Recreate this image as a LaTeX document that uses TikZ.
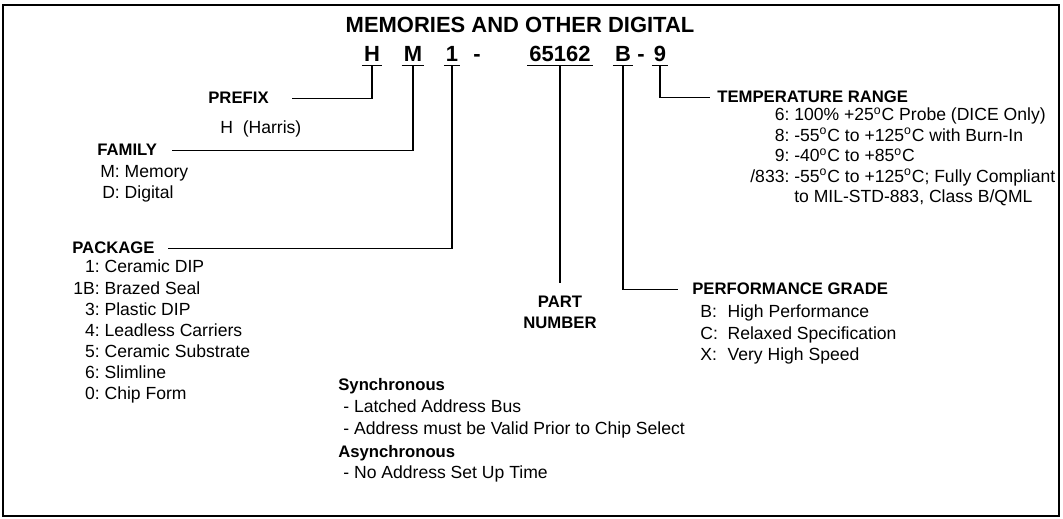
\documentclass[tikz,border=0pt]{standalone}
\usepackage{fontspec}
\setmainfont{Liberation Sans}
\usetikzlibrary{positioning}

\begin{document}
\begin{tikzpicture}[
        x=0.02cm, y=-0.02cm,
        every node/.style={inner sep=0pt, font=\fontsize{10}{12}\selectfont},
        codechar/.style={font=\fontsize{12.5}{14}\selectfont\bfseries, inner xsep=1pt, inner ysep=1.7pt, text depth=0pt, anchor=base},
        hdr/.style={font=\fontsize{9.5}{12}\selectfont\bfseries, anchor=base west},
        itemlist/.style={anchor=base west, align=left},
        lead/.style={line width=0.8pt, black},
    ]
        \useasboundingbox (0,0) rectangle (1063,519);
        \draw[line width=0.9pt] (3,5) rectangle (1059,516);

        % Title and part code
        \node[font=\fontsize{12.5}{14}\selectfont\bfseries] (title) at (520,25) {MEMORIES AND OTHER DIGITAL};
        \node[codechar] (cH) at (372,62) {H};
        \node[codechar] (cM) at (413,62) {M};
        \node[codechar] (c1) at (452,62) {1};
        \node[codechar] (dashA) at (477,62) {-};
        \node[codechar] (cNum) at (560,62) {65162};
        \node[codechar] (cB) at (623,62) {B};
        \node[codechar] (dashB) at (641,62) {-};
        \node[codechar] (c9) at (660,62) {9};

        % Underlines
        \foreach \c in {cH, cM, c1, cNum, cB, c9}
            \draw[lead] (\c.south west) -- (\c.south east);

        % Prefix and family
        \node[hdr] (prefix) at (208,104) {PREFIX};
        \node[itemlist] (harris) at (220,134) {H\ \ (Harris)};
        \node[hdr] (family) at (97,156) {FAMILY};
        \node[itemlist] (famlist) at (100,178) {\fontsize{10}{11.4}\selectfont
            \begin{tabular}[t]{@{}r@{\ }l@{}}M: & Memory\\ D: & Digital\end{tabular}};

        % Package
        \node[hdr] (package) at (72,254) {PACKAGE};
        \node[itemlist] (pkglist) at (73,273) {\fontsize{10}{12}\selectfont
            \begin{tabular}[t]{@{}r@{\ }l@{}}
                1: & Ceramic DIP\\
                1B: & Brazed Seal\\
                3: & Plastic DIP\\
                4: & Leadless Carriers\\
                5: & Ceramic Substrate\\
                6: & Slimline\\
                0: & Chip Form
            \end{tabular}};

        % Part number
        \node[font=\fontsize{9.5}{12}\selectfont\bfseries, anchor=north, align=center] (partno) at (560,296) {PART\\NUMBER};

        % Performance grade
        \node[hdr] (perf) at (692,295) {PERFORMANCE GRADE};
        \node[itemlist] (perflist) at (700,318) {\fontsize{10}{12}\selectfont
            \begin{tabular}[t]{@{}l@{\hspace{5.5pt}}l@{}}
                B: & High Performance\\
                C: & Relaxed Specification\\
                X: & Very High Speed
            \end{tabular}};

        % Temperature range
        \node[hdr] (temp) at (717,103) {TEMPERATURE RANGE};
        \node[itemlist] (templist) at (750,121) {\fontsize{10}{11.6}\selectfont
            \begin{tabular}[t]{@{}r@{\ }l@{}}
                6: & 100\% +25\textsuperscript{o}C Probe (DICE Only)\\
                8: & -55\textsuperscript{o}C to +125\textsuperscript{o}C with Burn-In\\
                9: & -40\textsuperscript{o}C to +85\textsuperscript{o}C\\
                /833: & -55\textsuperscript{o}C to +125\textsuperscript{o}C; Fully Compliant\\
                 & to MIL-STD-883, Class B/QML
            \end{tabular}};

        % Bus notes
        \node[hdr] (sync) at (338,391) {Synchronous};
        \node[itemlist] (synclist) at (343,413) {\fontsize{10}{12}\selectfont
            \begin{tabular}[t]{@{}l@{}}
                - Latched Address Bus\\
                - Address must be Valid Prior to Chip Select
            \end{tabular}};
        \node[hdr] (async) at (338,458) {Asynchronous};
        \node[itemlist] (asynclist) at (343,479) {- No Address Set Up Time};

        % Leader lines
        \draw[lead, shorten >=0.46cm] (cH.south) |- (prefix.east);
        \draw[lead, shorten >=0.30cm] (cM.south) |- (family.east);
        \draw[lead, shorten >=0.26cm] (c1.south) |- (package.east);
        \draw[lead, shorten >=0.26cm] (cNum.south) -- (partno.north);
        \draw[lead, shorten >=0.28cm] (cB.south) |- (perf.west);
        \draw[lead, shorten >=0.14cm] (c9.south) |- (temp.west);
    \end{tikzpicture}
\end{document}
